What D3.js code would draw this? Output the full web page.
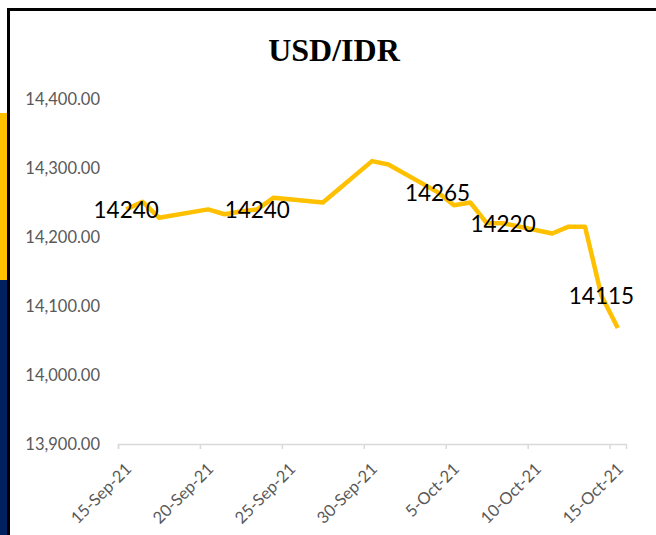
<!DOCTYPE html>
<html>
<head>
<meta charset="utf-8">
<script src="https://cdn.jsdelivr.net/npm/d3@7"></script>
<style>
  html, body { margin: 0; padding: 0; background: #fff; }
  svg { display: block; }
</style>
</head>
<body>
<script>
// USD/IDR daily rate, 15-Sep-21 .. 15-Oct-21
const dates = ["2021-09-15", "2021-09-16", "2021-09-17", "2021-09-20", "2021-09-21",
    "2021-09-22", "2021-09-23", "2021-09-24", "2021-09-27", "2021-09-28", "2021-09-29",
    "2021-09-30", "2021-10-01", "2021-10-04", "2021-10-05", "2021-10-06", "2021-10-07",
    "2021-10-08", "2021-10-11", "2021-10-12", "2021-10-13", "2021-10-14", "2021-10-15"];
const rates = [14240, 14251, 14228, 14240, 14233,
    14237, 14240, 14257, 14250, 14270, 14290,
    14310, 14305, 14265, 14246, 14250, 14220,
    14220, 14205, 14215, 14215, 14115, 14068];
// points that carry a data label
const labelledDates = ["2021-09-15", "2021-09-23", "2021-10-04", "2021-10-08", "2021-10-14"];
const yTicks = [13900, 14000, 14100, 14200, 14300, 14400];
const xTicks = ["2021-09-15", "2021-09-20", "2021-09-25", "2021-09-30", "2021-10-05", "2021-10-10", "2021-10-15"];

const width = 656, height = 535;
const parse = d3.utcParse("%Y-%m-%d");
const DAY = 24 * 3600 * 1000;

const data = dates.map(function (d, i) {
    return {date: parse(d), value: rates[i], label: labelledDates.indexOf(d) >= 0};
});

const svg = d3.select("body").append("svg")
    .attr("width", width)
    .attr("height", height);

// side strip + frame
svg.append("rect").attr("x", 0).attr("y", 113).attr("width", 8).attr("height", 167).attr("fill", "#FFC000");
svg.append("rect").attr("x", 0).attr("y", 280).attr("width", 8).attr("height", height - 280).attr("fill", "#002060");
svg.append("rect").attr("x", 8.5).attr("y", 9.5).attr("width", width + 10).attr("height", height + 10)
    .attr("fill", "#fff").attr("stroke", "#000").attr("stroke-width", 3);

// scales: date axis, each day is one slot, points sit in the middle of it
const x = d3.scaleUtc()
    .domain([parse("2021-09-15"), new Date(parse("2021-10-15").getTime() + DAY)])
    .range([118, 626]);
const y = d3.scaleLinear()
    .domain([13900, 14400])
    .range([444, 99]);

const mid = d => new Date(d.getTime() + DAY / 2);

// title
svg.append("text")
    .attr("x", 334)
    .attr("y", 61)
    .attr("text-anchor", "middle")
    .style("font-family", '"Liberation Serif", "Times New Roman", serif')
    .style("font-weight", "bold")
    .style("font-size", "32px")
    .attr("fill", "#000")
    .text("USD/IDR");

// y axis labels (no line, no grid)
const yAxis = svg.append("g")
    .attr("transform", "translate(100,0)")
    .call(d3.axisLeft(y).tickValues(yTicks).tickFormat(d3.format(",.2f")).tickSize(0).tickPadding(0));
yAxis.select(".domain").remove();
yAxis.selectAll("text")
    .attr("fill", "#595959")
    .style("font-family", "Lato, sans-serif")
    .style("font-size", "16.5px");

// x axis
const xAxis = svg.append("g")
    .attr("transform", "translate(0,444)")
    .call(d3.axisBottom(x).tickValues(xTicks.map(parse)).tickFormat(d3.utcFormat("%-d-%b-%y")).tickSizeOuter(0).tickSize(5));
xAxis.select(".domain").attr("stroke", "#d9d9d9").attr("stroke-width", 1.5);
xAxis.selectAll(".tick line").attr("stroke", "#d9d9d9").attr("stroke-width", 1.5);
xAxis.selectAll("text")
    .attr("fill", "#595959")
    .style("font-family", "Lato, sans-serif")
    .style("font-size", "16.5px")
    .attr("text-anchor", "end")
    .attr("x", 0)
    .attr("y", 0)
    .attr("dy", "0.35em")
    .attr("transform", "translate(10,22) rotate(-45)");

// the line
const line = d3.line()
    .x(d => x(mid(d.date)))
    .y(d => y(d.value));

svg.append("path")
    .datum(data)
    .attr("fill", "none")
    .attr("stroke", "#FFC000")
    .attr("stroke-width", 4.5)
    .attr("stroke-linejoin", "round")
    .attr("d", line);

// data labels, centred on their points
svg.selectAll("text.dlabel")
    .data(data.filter(d => d.label))
    .enter().append("text")
    .attr("class", "dlabel")
    .attr("x", d => x(mid(d.date)))
    .attr("y", d => y(d.value) + 3)
    .attr("text-anchor", "middle")
    .attr("dominant-baseline", "middle")
    .style("font-family", "Lato, sans-serif")
    .style("font-size", "22.5px")
    .attr("fill", "#000")
    .text(d => d.value);
</script>
</body>
</html>
